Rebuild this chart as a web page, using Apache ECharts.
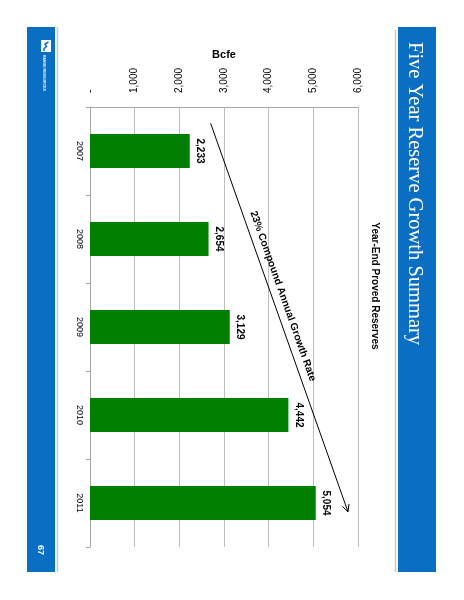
<!DOCTYPE html>
<html>
<head>
<meta charset="utf-8">
<script src="https://cdn.jsdelivr.net/npm/echarts@6/dist/echarts.min.js"></script>
<style>
html,body{margin:0;padding:0;background:#fff;}
#chart{width:464px;height:600px;}
</style>
</head>
<body>
<div id="chart"></div>
<script>
// ---- data ----
const years = ['2007', '2008', '2009', '2010', '2011'];
const reserves = [2233, 2654, 3129, 4442, 5054];
const valueTicks = [0, 1000, 2000, 3000, 4000, 5000, 6000];
const unitLabel = 'Bcfe';
const chartTitle = 'Year-End Proved Reserves';
const slideTitle = 'Five Year Reserve Growth Summary';
const pageNumber = '67';
const trendLabel = '23% Compound Annual Growth Rate';
const trendStart = [2700, -0.315]; // [value, category index]
const trendEnd = [5776, 4.10];

const BLUE = '#0a6fc3';
const chart = echarts.init(document.getElementById('chart'));

function fmt(v) { return v === 0 ? '-' : v.toLocaleString('en-US'); }

chart.setOption({
  animation: false,
  backgroundColor: '#ffffff',
  grid: { left: 90, top: 107, width: 268, height: 440, containLabel: false, outerBoundsMode: 'none' },
  xAxis: {
    type: 'value', position: 'top',
    min: valueTicks[0], max: valueTicks[valueTicks.length - 1], interval: 1000,
    name: unitLabel, nameLocation: 'middle', nameGap: 46,
    nameTextStyle: { fontFamily: 'Liberation Sans', fontWeight: 'bold', fontSize: 11, color: '#000' },
    axisLine: { show: true, lineStyle: { color: '#a6a6a6', width: 1 } },
    axisTick: { show: false },
    axisLabel: { rotate: -90, margin: 14, fontFamily: 'Liberation Sans', fontSize: 10, color: '#000', formatter: fmt },
    splitLine: { show: true, lineStyle: { color: '#bfbfbf', width: 1 } }
  },
  yAxis: {
    type: 'category', inverse: true, data: years,
    axisLine: { show: true, lineStyle: { color: '#a6a6a6', width: 1 } },
    axisTick: { show: true, length: 4, lineStyle: { color: '#a6a6a6' } },
    axisLabel: { rotate: -90, margin: 6, fontFamily: 'Liberation Sans', fontSize: 9, color: '#000' }
  },
  series: [{
    type: 'bar', data: reserves, barWidth: 34,
    itemStyle: { color: '#008000' },
    label: {
      show: true, position: 'right', distance: 5, rotate: -90,
      align: 'center', verticalAlign: 'bottom',
      fontFamily: 'Liberation Sans', fontWeight: 'bold', fontSize: 10, color: '#000',
      formatter: p => fmt(p.value)
    }
  }]
});

// ---- annotations computed from the axes ----
const y0 = chart.convertToPixel({ yAxisIndex: 0 }, years[0]);
const y1 = chart.convertToPixel({ yAxisIndex: 0 }, years[1]);
const band = y1 - y0;
function pt(d) { return [chart.convertToPixel({ xAxisIndex: 0 }, d[0]), y0 + d[1] * band]; }
const p0 = pt(trendStart), p1 = pt(trendEnd);
const dx = p1[0] - p0[0], dy = p1[1] - p0[1];
const len = Math.sqrt(dx * dx + dy * dy);
const ux = dx / len, uy = dy / len;
const ang = Math.atan2(dy, dx);
const ah = 7, aw = 3.5;
const base = [p1[0] - ux * ah, p1[1] - uy * ah];
const arrowHead = [
  [base[0] - uy * aw, base[1] + ux * aw],
  p1,
  [base[0] + uy * aw, base[1] - ux * aw]
];
const nx = uy, ny = -ux; // normal pointing to text side
const tFrac = 0.454, off = 10.5;
const tc = [p0[0] + dx * tFrac + nx * off, p0[1] + dy * tFrac + ny * off];

chart.setOption({
  graphic: [
    // left blue band
    { type: 'rect', shape: { x: 27, y: 27, width: 28, height: 545 }, style: { fill: BLUE } },
    { type: 'line', shape: { x1: 57.5, y1: 27, x2: 57.5, y2: 572 }, style: { stroke: '#c8c8c8', lineWidth: 1.5 } },
    // logo
    { type: 'rect', shape: { x: 41, y: 40, width: 10, height: 12 }, style: { fill: '#ffffff' } },
    { type: 'polyline', shape: { points: [[48.5, 42], [45, 44], [46.5, 46.5], [44, 48.5], [44, 51]] }, style: { stroke: BLUE, lineWidth: 1.5, fill: null } },
    { type: 'text', x: 44, y: 55, rotation: -Math.PI / 2, style: { x: 0, y: 0, text: 'RANGE RESOURCES', fill: '#ffffff', font: 'bold 3.5px Liberation Sans', textAlign: 'left', textVerticalAlign: 'middle' } },
    { type: 'text', x: 40, y: 550, rotation: -Math.PI / 2, style: { x: 0, y: 0, text: pageNumber, fill: '#ffffff', font: 'bold 9px Liberation Sans', textAlign: 'center', textVerticalAlign: 'middle' } },
    // right blue band with title
    { type: 'rect', shape: { x: 398, y: 27, width: 38, height: 545 }, style: { fill: BLUE } },
    { type: 'line', shape: { x1: 395.5, y1: 30, x2: 395.5, y2: 572 }, style: { stroke: '#c8c8c8', lineWidth: 1.5 } },
    { type: 'text', x: 414, y: 42, rotation: -Math.PI / 2, style: { x: 0, y: 0, text: slideTitle, fill: '#ffffff', font: '20.5px Liberation Serif', textAlign: 'left', textVerticalAlign: 'middle' } },
    // chart title
    { type: 'text', x: 375, y: 286, rotation: -Math.PI / 2, style: { x: 0, y: 0, text: chartTitle, fill: '#000', font: 'bold 10px Liberation Sans', textAlign: 'center', textVerticalAlign: 'middle' } },
    // trend arrow
    { type: 'line', shape: { x1: p0[0], y1: p0[1], x2: p1[0], y2: p1[1] }, style: { stroke: '#000', lineWidth: 1 } },
    { type: 'polyline', shape: { points: arrowHead }, style: { stroke: '#000', lineWidth: 1, fill: null } },
    { type: 'text', x: tc[0], y: tc[1], rotation: -ang, style: { x: 0, y: 0, text: trendLabel, fill: '#000', font: 'bold 10.3px Liberation Sans', textAlign: 'center', textVerticalAlign: 'middle' } }
  ]
});
</script>
</body>
</html>
